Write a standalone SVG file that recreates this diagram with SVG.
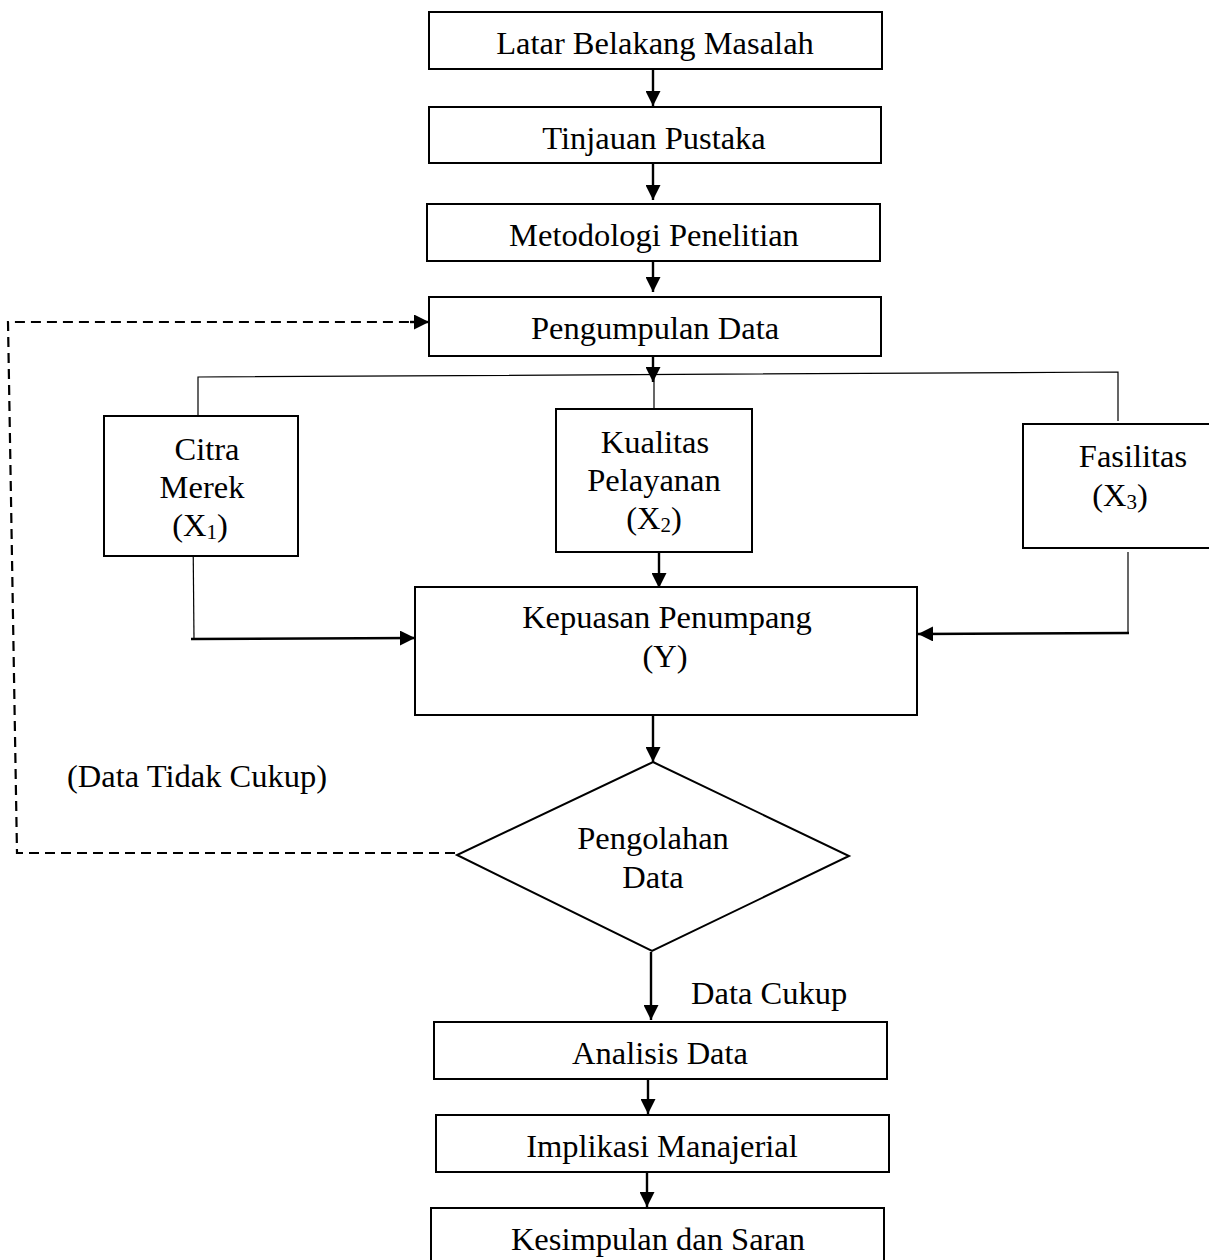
<svg xmlns="http://www.w3.org/2000/svg" width="1209" height="1260" viewBox="0 0 1209 1260">
<defs>
<style>
.box{fill:#fff;stroke:#000;stroke-width:2}
.t{font-family:"Liberation Serif","Times New Roman",serif;font-size:32.5px;fill:#000;text-anchor:middle}
.tl{font-family:"Liberation Serif","Times New Roman",serif;font-size:32.5px;fill:#000}
.c{fill:none;stroke:#000;stroke-width:2.4}
.thin{fill:none;stroke:#000;stroke-width:1.2}
.dash{fill:none;stroke:#000;stroke-width:2.2;stroke-dasharray:10 6}
.sub{font-size:21px}
</style>
<marker id="ah" viewBox="0 0 10 10" refX="10" refY="5" markerUnits="userSpaceOnUse" markerWidth="15" markerHeight="15" orient="auto">
<path d="M0,0 L10,5 L0,10 z" fill="#000"/>
</marker>
</defs>
<rect width="1209" height="1260" fill="#fff"/>
<g id="connectors">
<line class="c" x1="653" y1="69" x2="653" y2="106" marker-end="url(#ah)"/>
<line class="c" x1="653" y1="163" x2="653" y2="200" marker-end="url(#ah)"/>
<line class="c" x1="653" y1="261" x2="653" y2="292" marker-end="url(#ah)"/>
<line class="c" x1="653" y1="357" x2="653" y2="382" marker-end="url(#ah)"/>
<polyline class="thin" points="198,416 198,377 1118,372 1118,421"/>
<line class="thin" x1="654" y1="376" x2="654" y2="409"/>
<polyline class="thin" points="193,530 194,640"/>
<line class="c" x1="191" y1="639" x2="415" y2="638" marker-end="url(#ah)"/>
<polyline class="thin" points="1128,552 1128,633"/>
<line class="c" x1="1129" y1="633" x2="918" y2="634" marker-end="url(#ah)"/>
<line class="c" x1="659" y1="552" x2="659" y2="588" marker-end="url(#ah)"/>
<line class="c" x1="653" y1="716" x2="653" y2="762" marker-end="url(#ah)"/>
<line class="c" x1="651" y1="952" x2="651" y2="1020" marker-end="url(#ah)"/>
<line class="c" x1="648" y1="1080" x2="648" y2="1114" marker-end="url(#ah)"/>
<line class="c" x1="647" y1="1173" x2="647" y2="1207" marker-end="url(#ah)"/>
<polyline class="dash" points="455,853 17,853 8,322 412,322"/>
<line class="c" x1="410" y1="322" x2="429" y2="322" marker-end="url(#ah)"/>
</g>
<g id="latar"><rect class="box" x="429" y="12" width="453" height="57"/><text class="t" x="655" y="54">Latar Belakang Masalah</text></g>
<g id="tinjauan"><rect class="box" x="429" y="107" width="452" height="56"/><text class="t" x="654" y="149">Tinjauan Pustaka</text></g>
<g id="metodologi"><rect class="box" x="427" y="204" width="453" height="57"/><text class="t" x="654" y="246">Metodologi Penelitian</text></g>
<g id="pengumpulan"><rect class="box" x="429" y="297" width="452" height="59"/><text class="t" x="655" y="339">Pengumpulan Data</text></g>
<g id="citra"><rect class="box" x="104" y="416" width="194" height="140"/>
<text class="t" x="207" y="460">Citra</text><text class="t" x="202" y="498">Merek</text><text class="t" x="200" y="536">(X<tspan class="sub" dy="3">1</tspan><tspan dy="-3">)</tspan></text></g>
<g id="kualitas"><rect class="box" x="556" y="409" width="196" height="143"/>
<text class="t" x="655" y="453">Kualitas</text><text class="t" x="654" y="491">Pelayanan</text><text class="t" x="654" y="529">(X<tspan class="sub" dy="3">2</tspan><tspan dy="-3">)</tspan></text></g>
<g id="fasilitas"><rect class="box" x="1023" y="424" width="188" height="124"/>
<text class="t" x="1133" y="467">Fasilitas</text><text class="t" x="1120" y="506">(X<tspan class="sub" dy="3">3</tspan><tspan dy="-3">)</tspan></text></g>
<g id="kepuasan"><rect class="box" x="415" y="587" width="502" height="128"/>
<text class="t" x="667" y="628">Kepuasan Penumpang</text><text class="t" x="665" y="667">(Y)</text></g>
<g id="pengolahan"><polygon class="box" points="653,762 849,856 652,951 457,855"/>
<text class="t" x="653" y="849">Pengolahan</text><text class="t" x="653" y="888">Data</text></g>
<g id="analisis"><rect class="box" x="434" y="1022" width="453" height="57"/><text class="t" x="660" y="1064">Analisis Data</text></g>
<g id="implikasi"><rect class="box" x="436" y="1115" width="453" height="57"/><text class="t" x="662" y="1157">Implikasi Manajerial</text></g>
<g id="kesimpulan"><rect class="box" x="431" y="1208" width="453" height="60"/><text class="t" x="658" y="1250">Kesimpulan dan Saran</text></g>
<g id="labels">
<text class="tl" x="67" y="787">(Data Tidak Cukup)</text>
<text class="tl" x="691" y="1004">Data Cukup</text>
</g>
</svg>
